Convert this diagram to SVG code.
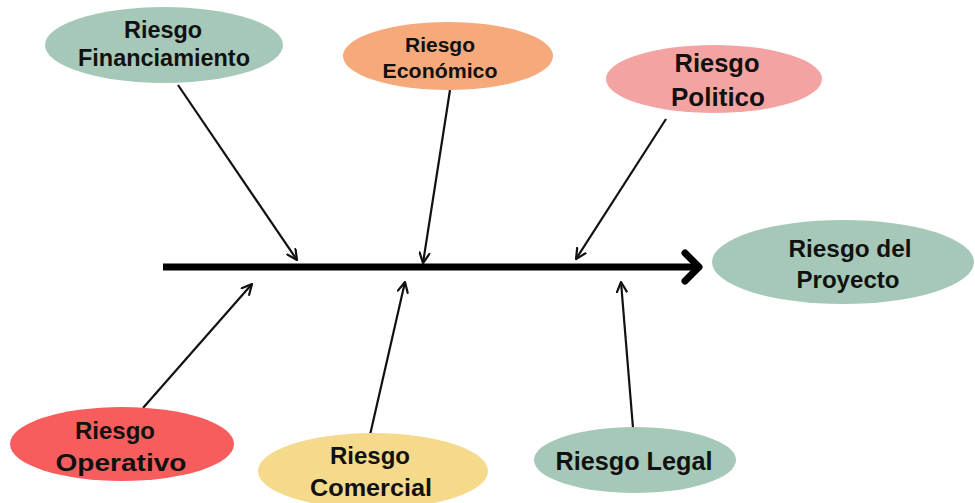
<svg xmlns="http://www.w3.org/2000/svg" width="975" height="503" viewBox="0 0 975 503">
<defs>
<style>
.t{font-family:"Liberation Sans","Arial",sans-serif;font-weight:bold;fill:#111;text-anchor:middle}
.c{stroke:#111;stroke-width:2.2;fill:none}
</style>
<marker id="ah" viewBox="0 0 12 12" refX="11" refY="6" markerWidth="12" markerHeight="12" markerUnits="userSpaceOnUse" orient="auto">
<path d="M1,1 L11,6 L1,11" fill="none" stroke="#111" stroke-width="2.2" stroke-linecap="round" stroke-linejoin="round"/>
</marker>
</defs>
<rect width="975" height="503" fill="#fff"/>
<g id="connectors">
<line x1="163" y1="267" x2="698" y2="267" stroke="#000" stroke-width="7"/>
<polyline points="685,253 699,267 685,281" fill="none" stroke="#000" stroke-width="7" stroke-linecap="round" stroke-linejoin="round"/>
<line class="c" x1="178" y1="85" x2="297" y2="260" marker-end="url(#ah)"/>
<line class="c" x1="450" y1="90" x2="423" y2="263" marker-end="url(#ah)"/>
<line class="c" x1="666" y1="119" x2="576" y2="259" marker-end="url(#ah)"/>
<line class="c" x1="143" y1="408" x2="252" y2="284" marker-end="url(#ah)"/>
<line class="c" x1="370" y1="435" x2="405" y2="282" marker-end="url(#ah)"/>
<line class="c" x1="633" y1="428" x2="621" y2="282" marker-end="url(#ah)"/>
</g>
<g id="financiamiento">
<ellipse cx="164" cy="45" rx="119" ry="38" fill="#a6c8b8"/>
<text class="t" x="163" y="38" font-size="23" textLength="78" lengthAdjust="spacingAndGlyphs">Riesgo</text>
<text class="t" x="164" y="66" font-size="23" textLength="172" lengthAdjust="spacingAndGlyphs">Financiamiento</text>
</g>
<g id="economico">
<ellipse cx="448" cy="56" rx="105" ry="34" fill="#f6a97b"/>
<text class="t" x="440" y="52" font-size="20" textLength="70" lengthAdjust="spacingAndGlyphs">Riesgo</text>
<text class="t" x="440" y="78" font-size="20" textLength="115" lengthAdjust="spacingAndGlyphs">Económico</text>
</g>
<g id="politico">
<ellipse cx="714" cy="79" rx="108" ry="34" fill="#f4a3a3"/>
<text class="t" x="717" y="72" font-size="26" textLength="85" lengthAdjust="spacingAndGlyphs">Riesgo</text>
<text class="t" x="718" y="106" font-size="26" textLength="94" lengthAdjust="spacingAndGlyphs">Politico</text>
</g>
<g id="proyecto">
<ellipse cx="843" cy="262" rx="131" ry="42" fill="#a6c8b8"/>
<text class="t" x="850" y="257" font-size="24" textLength="123" lengthAdjust="spacingAndGlyphs">Riesgo del</text>
<text class="t" x="848" y="288" font-size="24" textLength="103" lengthAdjust="spacingAndGlyphs">Proyecto</text>
</g>
<g id="operativo">
<ellipse cx="122" cy="444" rx="112" ry="37" fill="#f75d5d"/>
<text class="t" x="115" y="439" font-size="24" textLength="80" lengthAdjust="spacingAndGlyphs">Riesgo</text>
<text class="t" x="121" y="471" font-size="24" textLength="131" lengthAdjust="spacingAndGlyphs">Operativo</text>
</g>
<g id="comercial">
<ellipse cx="373" cy="471" rx="115" ry="38" fill="#f6da8c"/>
<text class="t" x="370" y="464" font-size="24" textLength="80" lengthAdjust="spacingAndGlyphs">Riesgo</text>
<text class="t" x="371" y="496" font-size="24" textLength="122" lengthAdjust="spacingAndGlyphs">Comercial</text>
</g>
<g id="legal">
<ellipse cx="635" cy="460" rx="101" ry="33" fill="#a6c8b8"/>
<text class="t" x="634" y="470" font-size="25" textLength="157" lengthAdjust="spacingAndGlyphs">Riesgo Legal</text>
</g>
</svg>
